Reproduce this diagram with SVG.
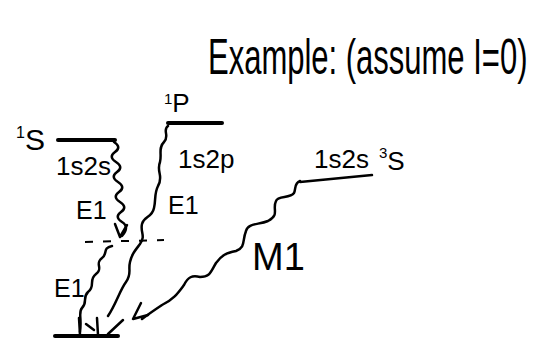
<svg xmlns="http://www.w3.org/2000/svg" width="555" height="350" viewBox="0 0 555 350">
<style>
text{font-family:"Liberation Sans",Arial,sans-serif;fill:#000}
.lvl{stroke:#000;stroke-width:4;stroke-linecap:round;fill:none}
.wave{stroke:#000;stroke-width:2.5;fill:none;stroke-linecap:round;stroke-linejoin:round}
.lbl{font-size:26px}
.tr{font-size:25px}
</style>
<rect width="555" height="350" fill="#fff"/>
<g id="title" transform="translate(208,74) scale(1,1.6)">
<text x="0" y="0" font-size="31">Example: (assume I=0)</text>
</g>

<g id="level-1S">
<line class="lvl" x1="58" y1="140" x2="115" y2="140"/>
<text x="16" y="150" font-size="30"><tspan font-size="16" dy="-12">1</tspan><tspan dy="12">S</tspan></text>
<text class="lbl" x="56" y="175">1s2s</text>
</g>

<g id="level-1P">
<line class="lvl" x1="168" y1="123" x2="222" y2="123"/>
<text x="164" y="112" font-size="26"><tspan font-size="15" dy="-8">1</tspan><tspan dy="8">P</tspan></text>
<text class="lbl" x="178" y="168">1s2p</text>
</g>

<g id="level-3S">
<line class="lvl" x1="300" y1="182" x2="372" y2="175" style="stroke-width:2.5"/>
<text class="lbl" x="314" y="168">1s2s</text>
<text x="379" y="170" font-size="26"><tspan font-size="15" dy="-12">3</tspan><tspan dy="12">S</tspan></text>
</g>

<g id="level-intermediate">
<line x1="85" y1="242" x2="164" y2="240" stroke="#000" stroke-width="2" stroke-dasharray="8,10"/>
</g>

<g id="level-ground">
<line class="lvl" x1="55" y1="336" x2="118" y2="336"/>
</g>

<g id="connectors">
<path class="wave" d="M114,142 q8,5 1,10 t1,10 t1,10 t1,10 t1,10 t1,10 t1,10 t1,10 t0,14"/>
<path class="wave" d="M115,224 L120,237 L127,225"/>
<text class="tr" x="76" y="219">E1</text>

<path class="wave" d="M112,246 c-10,2 -4,8 -10,12 c-8,6 2,10 -6,16 c-8,6 0,12 -8,18 c-6,6 0,10 -6,16 c-4,4 0,10 -2,24"/>
<path class="wave" d="M79,318 L80,335 M86,324 L94,330 M97,318 L98,335"/>
<text class="tr" x="54" y="297">E1</text>

<path class="wave" d="M168,126 c-6,4 2,10 -4,16 c-6,6 -2,12 -4,20 c-4,10 4,14 -2,24 c-4,8 -2,14 -4,22 c-2,10 -10,8 -12,16 c-2,8 4,12 -2,20 c-6,8 -8,10 -10,18 c-2,8 2,12 -4,20 c-6,8 -10,22 -18,34"/>
<path class="wave" d="M108,334 L123,320"/>
<text class="tr" x="168" y="214">E1</text>

<path class="wave" d="M300,181 c-6,2 -4,8 -6,12 c-4,6 -16,2 -18,8 c-4,8 4,14 -8,20 c-10,4 -20,2 -22,10 c-4,10 0,16 -10,20 c-10,2 -14,4 -20,12 c-6,10 -6,14 -16,14 c-8,-2 -12,0 -16,8 c-6,8 -10,14 -22,20 c-6,4 -12,8 -20,14"/>
<path class="wave" d="M141,303 L133,319 L148,315"/>
<text x="252" y="270" font-size="38">M1</text>
</g>
</svg>
